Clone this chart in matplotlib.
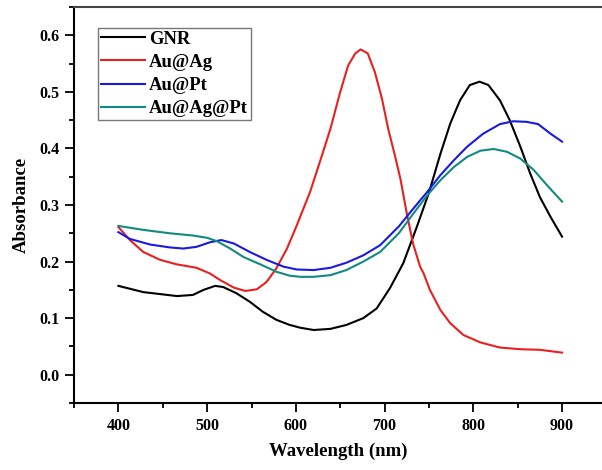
import matplotlib.pyplot as plt
from matplotlib.ticker import MultipleLocator

# wavelength (nm) / absorbance
gnr_x = [400, 428, 466, 484, 496, 509, 518, 533, 548, 563, 578, 593, 605, 620, 639, 657,
         676, 691, 706, 721, 736, 750, 763, 774, 785, 796, 807, 817, 830, 841, 853, 864,
         875, 887, 900]
gnr_y = [0.157, 0.146, 0.139, 0.141, 0.150, 0.157, 0.155, 0.144, 0.129, 0.111, 0.097, 0.088,
         0.083, 0.079, 0.081, 0.088, 0.100, 0.117, 0.153, 0.197, 0.260, 0.322, 0.391, 0.444,
         0.485, 0.512, 0.518, 0.512, 0.485, 0.450, 0.403, 0.356, 0.314, 0.279, 0.244]

auag_x = [400, 413, 428, 447, 466, 488, 503, 515, 530, 543, 556, 567, 578, 590, 601, 616,
          627, 639, 650, 659, 667, 673, 681, 689, 697, 704, 712, 718, 725, 732, 740, 744,
          751, 763, 774, 789, 808, 830, 853, 875, 900]
auag_y = [0.261, 0.238, 0.217, 0.203, 0.195, 0.189, 0.179, 0.167, 0.154, 0.148, 0.151, 0.164,
          0.188, 0.223, 0.264, 0.323, 0.376, 0.435, 0.500, 0.547, 0.568, 0.575, 0.568, 0.535,
          0.488, 0.435, 0.385, 0.345, 0.285, 0.232, 0.191, 0.179, 0.150, 0.114, 0.091, 0.070,
          0.057, 0.048, 0.045, 0.044, 0.039]

aupt_x = [400, 413, 436, 458, 473, 488, 503, 516, 530, 548, 567, 586, 601, 620, 639, 657,
          676, 695, 716, 732, 748, 763, 778, 793, 811, 830, 845, 860, 873, 887, 900]
aupt_y = [0.252, 0.240, 0.230, 0.225, 0.223, 0.226, 0.234, 0.238, 0.232, 0.217, 0.203, 0.191,
          0.186, 0.185, 0.189, 0.198, 0.211, 0.229, 0.262, 0.293, 0.323, 0.353, 0.379, 0.403,
          0.426, 0.443, 0.448, 0.447, 0.443, 0.426, 0.412]

auagpt_x = [400, 428, 458, 484, 500, 511, 526, 541, 560, 578, 593, 605, 620, 639, 657, 676,
            695, 716, 732, 748, 763, 778, 793, 808, 823, 838, 853, 868, 883, 900]
auagpt_y = [0.263, 0.256, 0.250, 0.246, 0.242, 0.236, 0.223, 0.208, 0.195, 0.182, 0.175, 0.173,
            0.173, 0.176, 0.185, 0.200, 0.217, 0.250, 0.284, 0.317, 0.344, 0.367, 0.385, 0.396,
            0.399, 0.394, 0.382, 0.362, 0.335, 0.306]

plt.rcParams['font.family'] = ['Liberation Serif', 'DejaVu Serif']
plt.rcParams['font.weight'] = 'bold'

fig = plt.figure(figsize=(6.02, 4.70), dpi=100)
ax = fig.add_axes([0.123, 0.1426, 0.877, 0.8425])

ax.plot(gnr_x, gnr_y, color='black', lw=1.5, label='GNR')
ax.plot(auag_x, auag_y, color='#e8201f', lw=1.5, label='Au@Ag')
ax.plot(aupt_x, aupt_y, color='#1a1ae0', lw=1.5, label='Au@Pt')
ax.plot(auagpt_x, auagpt_y, color='#118a80', lw=1.5, label='Au@Ag@Pt')

ax.set_xlim(350, 945)
ax.set_ylim(-0.05, 0.65)
ax.xaxis.set_minor_locator(MultipleLocator(50))
ax.yaxis.set_minor_locator(MultipleLocator(0.05))
ax.set_xticks([400, 500, 600, 700, 800, 900])
ax.set_yticks([0.0, 0.1, 0.2, 0.3, 0.4, 0.5, 0.6])
ax.set_yticklabels(['0.0', '0.1', '0.2', '0.3', '0.4', '0.5', '0.6'])

ax.tick_params(which='major', direction='out', length=6.5, width=1.3, labelsize=11.5, pad=4)
ax.tick_params(axis='x', which='major', pad=4.5)
ax.tick_params(which='minor', direction='out', length=3.5, width=1.3)
ax.tick_params(top=False, right=False)
for s in ['left', 'bottom', 'top']:
    ax.spines[s].set_linewidth(1.5)
ax.spines['top'].set_color('#444444')
ax.spines['right'].set_visible(False)

ax.set_xlabel('Wavelength (nm)', fontsize=13.5, fontweight='bold', labelpad=6)
ax.set_ylabel('Absorbance', fontsize=13.5, fontweight='bold', labelpad=7)

leg = ax.legend(loc='upper left', bbox_to_anchor=(0.045, 0.947), fontsize=13.4, frameon=True,
                fancybox=False, edgecolor='#555555', handlelength=2.4, handletextpad=0.2,
                borderpad=0.15, labelspacing=0.33, borderaxespad=0)
leg.get_frame().set_linewidth(1.0)

fig.savefig('out.png', dpi=100)
